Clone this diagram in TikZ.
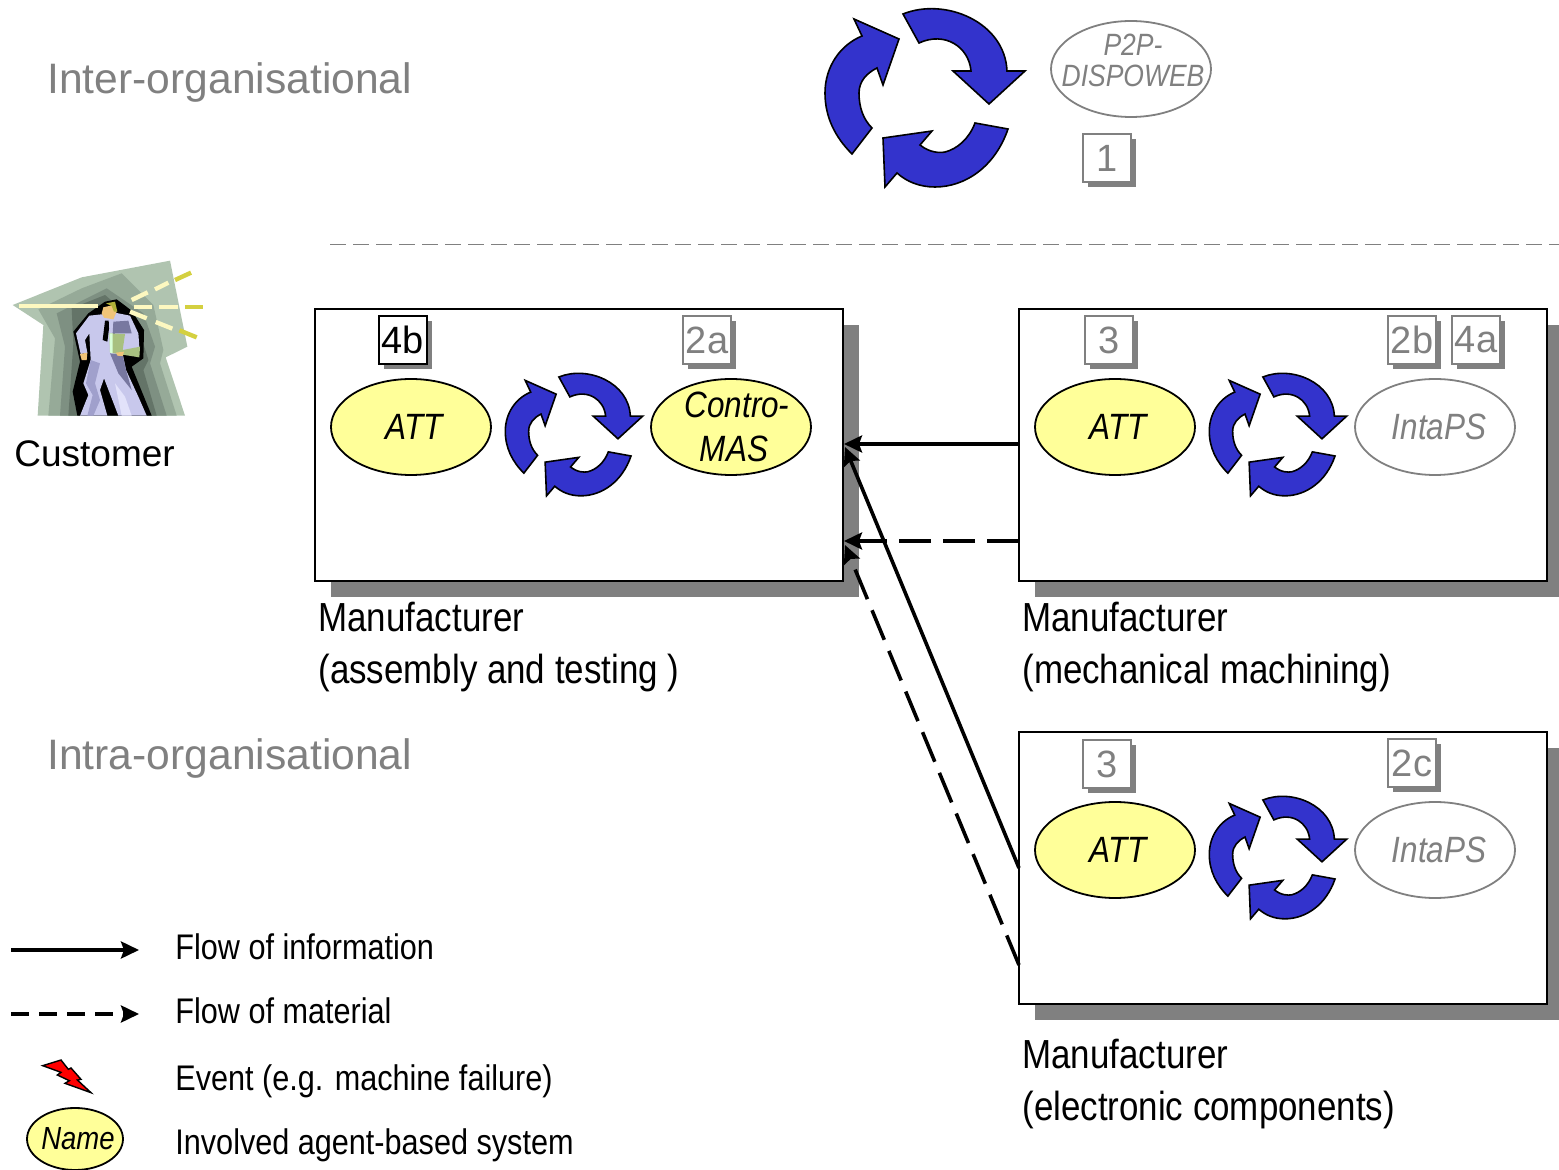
\documentclass[tikz,border=0pt]{standalone}
\usepackage{fontspec}
\setmainfont{Liberation Sans}
\newfontfamily\narrowfont[FakeStretch=0.86]{Liberation Sans}
\usepackage{tikz}
\usetikzlibrary{shadows}
\usetikzlibrary{positioning}
\usetikzlibrary{arrows.meta,shapes}
\definecolor{agentyellow}{HTML}{FFFF99}
\definecolor{cycleblue}{HTML}{3333CC}
\definecolor{labelgray}{HTML}{808080}
\tikzstyle{mfrbox}=[rectangle,draw=black,fill=white,line width=1pt,minimum width=264pt,minimum height=136pt,inner sep=0pt,drop shadow={shadow xshift=8pt,shadow yshift=-8pt,fill=labelgray,opacity=1}]
\tikzstyle{agent}=[ellipse,draw=black,fill=agentyellow,line width=0.9pt,minimum width=80pt,minimum height=48pt,inner sep=-6pt,align=center,font=\narrowfont\itshape\fontsize{18.3}{22}\selectfont]
\tikzstyle{otheragent}=[agent,draw=labelgray,fill=white,text=labelgray]
\tikzstyle{numbox}=[rectangle,draw=labelgray,fill=white,line width=1pt,minimum size=24pt,inner sep=0pt,text=labelgray,font=\fontsize{19}{22}\selectfont,drop shadow={shadow xshift=2.5pt,shadow yshift=-2.5pt,fill=labelgray,opacity=1}]
\tikzstyle{levellabel}=[anchor=west,inner sep=0pt,text=labelgray,font=\fontsize{21.3}{25}\selectfont]
\tikzstyle{mfrlabel}=[anchor=west,inner sep=0pt,align=left,font=\narrowfont\fontsize{20.3}{26}\selectfont]
\tikzstyle{legendlabel}=[anchor=west,inner sep=0pt,font=\narrowfont\fontsize{17.8}{22}\selectfont]
\tikzstyle{flow}=[draw,line width=1.8pt,-{Stealth[length=9pt,width=8.5pt,inset=1.5pt]}]
\tikzstyle{matflow}=[flow,dash pattern=on 16pt off 6pt]
\tikzset{cyclearrows/.pic={
  \path[draw=black,fill=cycleblue,line width=0.8pt,line join=miter]
    (-22,-83) .. controls (20,-100) and (80,-75) .. (82,-26) -- (100,-26) -- (64,7) -- (28,-26) -- (46,-26)
      .. controls (44,-50) and (20,-66) .. (-6,-54) -- cycle
    (50,26) -- (83,32) .. controls (70,70) and (40,90) .. (10,90) .. controls (-5,90) and (-18,85) .. (-28,76)
      -- (-40,90) -- (-42,41) -- (7,34) -- (-5,48) .. controls (5,56) and (15,56) .. (20,55) .. controls (32,52) and (44,42) .. (50,26) -- cycle
    (-73,57) .. controls (-90,40) and (-100,20) .. (-100,-4) .. controls (-100,-30) and (-85,-52) .. (-63,-61)
      -- (-71,-78) -- (-26,-58) -- (-42,-12) -- (-48,-29) .. controls (-58,-24) and (-66,-16) .. (-66,-4)
      .. controls (-66,10) and (-62,22) .. (-53,31) -- cycle;
}}

\begin{document}
\begin{tikzpicture}[x=0.5pt,y=-0.5pt]

  \useasboundingbox (0,0) rectangle (1559,1170);

  % customer figure
  \begin{scope}[shift={(0,250)},x=0.1667pt,y=-0.1667pt]
    \fill[fill={rgb,255:red,176;green,196;blue,176}] (38,165) -- (245,82) -- (510,32) -- (562,290) -- (497,322) -- (555,497) -- (113,497) -- (130,225) -- cycle;
    \fill[fill={rgb,255:red,150;green,170;blue,152}] (115,178) -- (245,115) -- (365,70) -- (460,165) -- (490,300) -- (480,340) -- (530,497) -- (145,497) -- (165,265) -- cycle;
    \fill[fill={rgb,255:red,126;green,144;blue,130}] (170,190) -- (320,115) -- (430,190) -- (465,290) -- (450,340) -- (500,497) -- (180,497) -- (195,290) -- cycle;
    \fill[fill={rgb,255:red,100;green,116;blue,104}] (215,175) -- (315,135) -- (410,215) -- (445,330) -- (430,360) -- (470,497) -- (205,497) -- (220,280) -- cycle;
    \fill[black] (315,155) -- (350,148) -- (395,182) -- (432,240) -- (430,325) -- (395,350) -- (455,497) -- (232,497) -- (218,425) -- (240,335) -- (220,245) -- (265,190) -- cycle;
    \fill[fill={rgb,255:red,200;green,200;blue,236}] (268,197) -- (228,250) -- (242,312) -- (262,308) -- (255,270) -- (268,250) -- (272,330) -- (250,400) -- (265,435) -- (240,497) -- (322,497) -- (300,420) -- (312,385) -- (355,497) -- (440,497) -- (415,440) -- (378,360) -- (368,312) -- (418,292) -- (415,250) -- (390,197) -- (345,188) -- (305,193) -- cycle;
    \fill[fill={rgb,255:red,120;green,120;blue,160}] (340,215) -- (385,212) -- (395,250) -- (345,250) -- (335,300) -- cycle;
    \fill[fill={rgb,255:red,120;green,120;blue,160}] (330,310) -- (368,315) -- (378,360) -- (395,420) -- (355,370) -- cycle;
    \fill[fill={rgb,255:red,160;green,160;blue,204}] (272,330) -- (300,340) -- (285,400) -- (300,450) -- (280,497) -- (262,497) -- (278,435) -- (258,400) -- cycle;
    \fill[fill={rgb,255:red,226;green,226;blue,250}] (345,400) -- (375,440) -- (395,497) -- (365,497) -- cycle;
    \fill[black] (315,212) -- (326,212) -- (327,235) -- (322,275) -- (308,270) -- cycle;
    \fill[fill={rgb,255:red,240;green,196;blue,120}] (310,172) -- (340,165) -- (350,185) -- (340,208) -- (312,203) -- (305,190) -- cycle;
    \fill[fill={rgb,255:red,176;green,176;blue,56}] (318,160) -- (345,155) -- (352,185) -- (342,185) -- (335,168) -- cycle;
    \fill[fill={rgb,255:red,240;green,196;blue,120}] (240,312) -- (262,308) -- (260,330) -- (245,330) -- cycle;
    \fill[fill={rgb,255:red,168;green,192;blue,128}] (328,250) -- (375,252) -- (368,300) -- (420,290) -- (418,322) -- (330,308) -- cycle;
    \fill[white!85!green] (328,250) -- (338,250) -- (338,310) -- (330,308) -- cycle;
    \fill[fill={rgb,255:red,240;green,196;blue,120}] (348,308) -- (372,305) -- (368,318) -- (352,317) -- cycle;
    \foreach \xa/\ya/\xb/\yb in {57/168/295/168, 395/150/443/127, 465/118/505/98, 403/171/455/171, 478/171/533/171, 390/185/440/205, 467/216/517/236}
      \draw[line width=2.2pt,color={rgb,255:red,253;green,248;blue,192}] (\xa,\ya) -- (\xb,\yb);
    \foreach \xa/\ya/\xb/\yb in {525/90/573/68, 555/171/608/171, 538/241/590/262}
      \draw[line width=2.2pt,color={rgb,255:red,212;green,208;blue,64}] (\xa,\ya) -- (\xb,\yb);
  \end{scope}

  \node[anchor=west,inner sep=0pt,font=\fontsize{18.5}{22}\selectfont] (customer) at (14,454) {Customer};

  \node[levellabel] (inter) at (47,82) {Inter-organisational};
  \node[levellabel] (intra) at (47,758) {Intra-organisational};

  \draw[labelgray,line width=0.9pt,dash pattern=on 8pt off 3.5pt] (330,244.5) -- (1559,244.5);

  % manufacturers
  \foreach \x/\y/\name in {579/445/asm, 1283/445/mech, 1283/868/elec}
    \node[mfrbox] (\name) at (\x,\y) {};

  \foreach \x/\y/\name/\label in {318/647/asmlabel/{Manufacturer\\(assembly and testing )}, 1022/647/mechlabel/{Manufacturer\\(mechanical machining)}, 1022/1084/eleclabel/{Manufacturer\\(electronic components)}}
    \node[mfrlabel] (\name) at (\x,\y) {\label};

  % agent systems
  \foreach \x/\y/\name/\label in {411/427/att1/ATT, 731/427/cmas/{\hspace*{3pt}Contro-\\\hspace*{3pt}MAS}, 1115/427/att2/ATT, 1115/850/att3/ATT}
    \node[agent] (\name) at (\x,\y) {\hspace*{3pt}\label};
  \node[agent,minimum width=48pt,minimum height=31pt,font=\narrowfont\itshape\fontsize{16}{18}\selectfont] (name) at (75,1139) {\hspace*{3pt}\raisebox{-1.5pt}{Name}};

  \foreach \x/\y/\name/\label in {1435/427/ips1/IntaPS, 1435/850/ips2/IntaPS}
    \node[otheragent] (\name) at (\x,\y) {\hspace*{4pt}\label};
  \node[otheragent] (p2p) at (1131,69) {};
  \node[inner sep=0pt,align=center,text=labelgray,font=\narrowfont\itshape\fontsize{15.4}{15.5}\selectfont] (p2ptext) at (1133,60) {P2P-\\DISPOWEB};

  \foreach \x/\y/\s in {925/97/1, 574/434/0.687, 1278/434/0.687, 1278/857/0.687}
    \pic[scale=\s] at (\x,\y) {cyclearrows};

  % step numbers
  \foreach \x/\y/\name/\label in {1107/158/n1/1, 707/340/na/2a, 1109/340/nc/3, 1412/340/nb/2b, 1476/340/nd/4a, 1107/764/ne/3, 1412/763/nf/2c}
    \node[numbox] (\name) at (\x,\y) {\label};
  \node[numbox,draw=black,text=black,line width=1.1pt] (ng) at (403,340) {4b};

  % flows
  \coordinate (asminfo) at (844,444);
  \coordinate (asmmat) at (844,541);
  \coordinate (asminfod) at (845,447);
  \coordinate (asmmatd) at (845,545);
  \coordinate (mechinfo) at (1019,444);
  \coordinate (mechmat) at (1019,541);
  \coordinate (elecinfo) at (1019,868);
  \coordinate (elecmat) at (1019,965);
  \path[flow] (mechinfo) -- (asminfo);
  \path[matflow] (mechmat) -- (asmmat);
  \path[flow] (elecinfo) -- (asminfod);
  \path[matflow] (elecmat) -- (asmmatd);

  % legend
  \coordinate (leginfoa) at (11,950);
  \coordinate (leginfob) at (139,950);
  \coordinate (legmata) at (11,1014);
  \coordinate (legmatb) at (139,1014);
  \path[flow] (leginfoa) -- (leginfob);
  \path[flow,dash pattern=on 9pt off 5pt] (legmata) -- (legmatb);

  \begin{scope}[shift={(0,1040)},x=0.1667pt,y=-0.1667pt]
    \draw[black,fill=red,line width=0.7pt] (128,77) -- (183,60) -- (205,88) -- (213,84) -- (243,118) -- (232,120) -- (273,158) -- (195,130) -- (208,122) -- (172,105) -- (183,97) -- cycle;
  \end{scope}

  \foreach \y/\name/\label in {947/leg1/Flow of information, 1011/leg2/Flow of material, 1081/leg3/{Event (e.g. machine failure)}, 1145/leg4/Involved agent-based system}
    \node[legendlabel] (\name) at (175,\y) {\label};

\end{tikzpicture}
\end{document}
